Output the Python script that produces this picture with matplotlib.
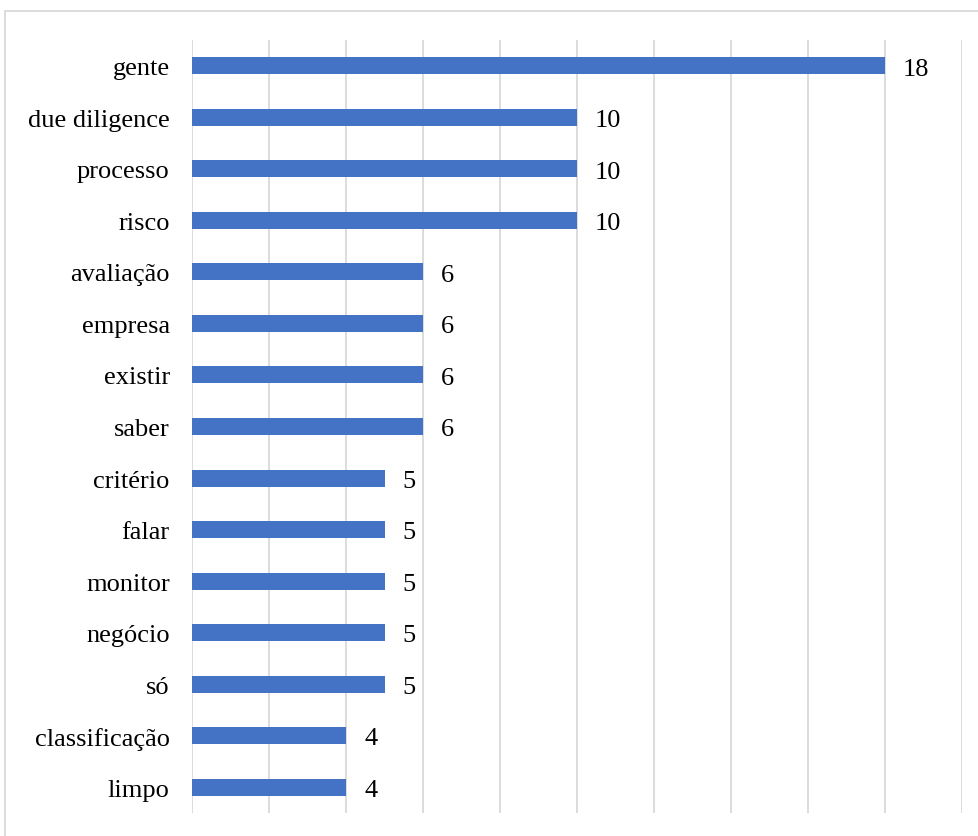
import matplotlib
matplotlib.use("Agg")
import matplotlib.pyplot as plt
from matplotlib.patches import Rectangle

categories = ["gente", "due diligence", "processo", "risco", "avaliação", "empresa",
              "existir", "saber", "critério", "falar", "monitor", "negócio", "só",
              "classificação", "limpo"]
values = [18, 10, 10, 10, 6, 6, 6, 6, 5, 5, 5, 5, 5, 4, 4]

plt.rcParams['font.family'] = ['Liberation Serif', 'DejaVu Serif']

W, H = 979, 837
fig = plt.figure(figsize=(W / 100, H / 100), dpi=100)
ax = fig.add_axes([192 / W, 1 - 814 / H, (962 - 192) / W, (814 - 41) / H])

y = list(range(len(categories)))
ax.barh(y, values, height=0.33, color="#4472C4", zorder=3)
ax.set_xlim(0, 20)
ax.set_ylim(len(categories) - 0.5, -0.5)
ax.set_yticks(y)
ax.set_yticklabels(categories, fontsize=19)
for lbl in ax.get_yticklabels():
    lbl.set_verticalalignment('center_baseline')
ax.set_xticks(range(0, 21, 2))
ax.set_xticklabels([])
ax.tick_params(axis='both', length=0)
ax.tick_params(axis='y', pad=16)
ax.grid(axis='x', color="#d9d9d9", linewidth=1.3, zorder=0)
for s in ax.spines.values():
    s.set_visible(False)

for yi, v in zip(y, values):
    ax.annotate(str(v), (v, yi), xytext=(13, -2), textcoords='offset points',
                va='center', ha='left', fontsize=19)

fig.patches.append(Rectangle((5 / W, -0.01), 1.0, 1 - 12 / H + 0.01,
                             transform=fig.transFigure, fill=False,
                             edgecolor="#d9d9d9", linewidth=1.3))

fig.savefig("out.png", dpi=100)
